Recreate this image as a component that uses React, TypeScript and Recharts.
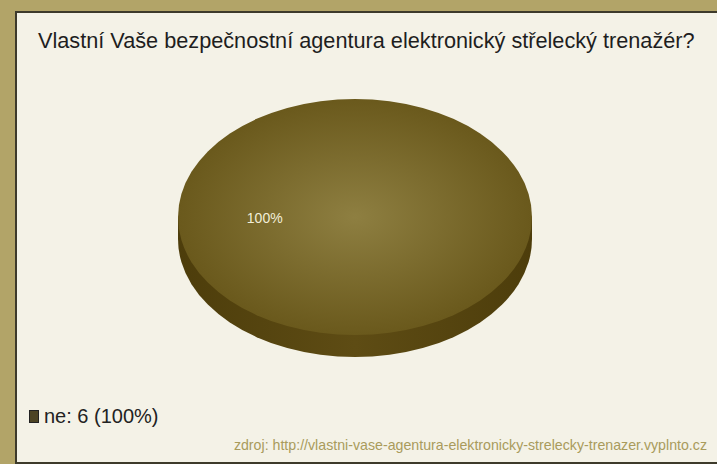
import React from 'react';
import { PieChart, Pie, Legend } from 'recharts';

const TITLE = 'Vlastní Vaše bezpečnostní agentura elektronický střelecký trenažér?';
const SOURCE = 'zdroj: http://vlastni-vase-agentura-elektronicky-strelecky-trenazer.vyplnto.cz';
const categories = ['ne'];
const counts = [6];

const data = categories.map((name, i) => ({ name, value: counts[i] }));
const total = counts.reduce((a, b) => a + b, 0);

const TILT = 0.667;
const DEPTH = 22;
const FONT = '"Liberation Sans", Arial, sans-serif';

function ellipsePath(cx: number, cy: number, rx: number, ry: number, sa: number, ea: number) {
  const span = ea - sa;
  if (Math.abs(span) >= 359.99) {
    return `M ${cx - rx} ${cy} A ${rx} ${ry} 0 1 0 ${cx + rx} ${cy} A ${rx} ${ry} 0 1 0 ${cx - rx} ${cy} Z`;
  }
  const rad = Math.PI / 180;
  const x1 = cx + rx * Math.cos(-sa * rad);
  const y1 = cy + ry * Math.sin(-sa * rad);
  const x2 = cx + rx * Math.cos(-ea * rad);
  const y2 = cy + ry * Math.sin(-ea * rad);
  const large = Math.abs(span) > 180 ? 1 : 0;
  const sweep = span > 0 ? 0 : 1;
  return `M ${cx} ${cy} L ${x1} ${y1} A ${rx} ${ry} 0 ${large} ${sweep} ${x2} ${y2} Z`;
}

function EllipseSector(props: any) {
  const { cx, cy, outerRadius, startAngle, endAngle } = props;
  const rx = outerRadius;
  const ry = outerRadius * TILT;
  return (
    <g>
      <defs>
        <radialGradient id="topGrad" cx="50%" cy="50%" r="50%">
          <stop offset="0%" stopColor="#8e7f41" />
          <stop offset="100%" stopColor="#6a591c" />
        </radialGradient>
        <linearGradient id="sideGrad" x1="0" y1="0" x2="1" y2="0">
          <stop offset="0%" stopColor="#4d3d0b" />
          <stop offset="50%" stopColor="#5e4c14" />
          <stop offset="100%" stopColor="#4d3d0b" />
        </linearGradient>
      </defs>
      <path d={ellipsePath(cx, cy + DEPTH, rx, ry, startAngle, endAngle)} fill="url(#sideGrad)" />
      <rect x={cx - rx} y={cy} width={2 * rx} height={DEPTH} fill="url(#sideGrad)" />
      <path d={ellipsePath(cx, cy, rx, ry, startAngle, endAngle)} fill="url(#topGrad)" />
    </g>
  );
}

function renderLabel(props: any) {
  const { cx, cy, midAngle, outerRadius, percent } = props;
  const rad = Math.PI / 180;
  const r = outerRadius * 0.51;
  const x = cx + r * Math.cos(-midAngle * rad);
  const y = cy + r * TILT * Math.sin(-midAngle * rad);
  return (
    <text x={x} y={y + 1} fill="#f2eed8" fontSize={14} fontFamily={FONT} textAnchor="middle" dominantBaseline="central">
      {`${Math.round(percent * 100)}%`}
    </text>
  );
}

function LegendContent(props: any) {
  const { payload } = props;
  return (
    <div style={{ fontFamily: FONT, fontSize: 20, color: '#222' }}>
      {(payload || []).map((entry: any, i: number) => {
        const v = entry.payload?.value ?? counts[i];
        return (
          <div key={i} style={{ display: 'flex', alignItems: 'center' }}>
            <span style={{ display: 'inline-block', width: 8, height: 11, background: '#4d4424', border: '1px solid #222', marginRight: 5 }} />
            <span>{`${entry.value}: ${v} (${Math.round((v / total) * 100)}%)`}</span>
          </div>
        );
      })}
    </div>
  );
}

export default function App() {
  return (
    <div style={{ position: 'absolute', left: 0, top: 0, width: 717, height: 464, background: '#b2a468', overflow: 'hidden' }}>
      <div
        style={{
          position: 'absolute',
          left: 15,
          top: 11,
          width: 720,
          height: 449,
          background: '#f4f2e7',
          borderTop: '2px solid #3d3a2b',
          borderLeft: '2px solid #3d3a2b',
          borderBottom: '2px solid #3d3a2b',
        }}
      />
      <div
        style={{
          position: 'absolute',
          left: 38,
          top: 28,
          fontFamily: FONT,
          fontSize: 21.7,
          color: '#1e1e1e',
          whiteSpace: 'nowrap',
        }}
      >
        {TITLE}
      </div>
      <div
        style={{
          position: 'absolute',
          right: 10,
          top: 437,
          fontFamily: FONT,
          fontSize: 14.2,
          color: '#a99b5c',
          whiteSpace: 'nowrap',
        }}
      >
        {SOURCE}
      </div>
      <div style={{ position: 'absolute', left: 0, top: 0 }}>
        <PieChart width={717} height={464} margin={{ top: 0, right: 0, bottom: 0, left: 0 }}>
          <Pie
            data={data}
            dataKey="value"
            nameKey="name"
            cx={355}
            cy={217}
            outerRadius={177}
            startAngle={0}
            endAngle={360}
            stroke="none"
            isAnimationActive={false}
            shape={EllipseSector}
            label={renderLabel}
            labelLine={false}
          />
          <Legend
            content={LegendContent}
            wrapperStyle={{ position: 'absolute', left: 29, top: 405, width: 'auto' }}
          />
        </PieChart>
      </div>
    </div>
  );
}
